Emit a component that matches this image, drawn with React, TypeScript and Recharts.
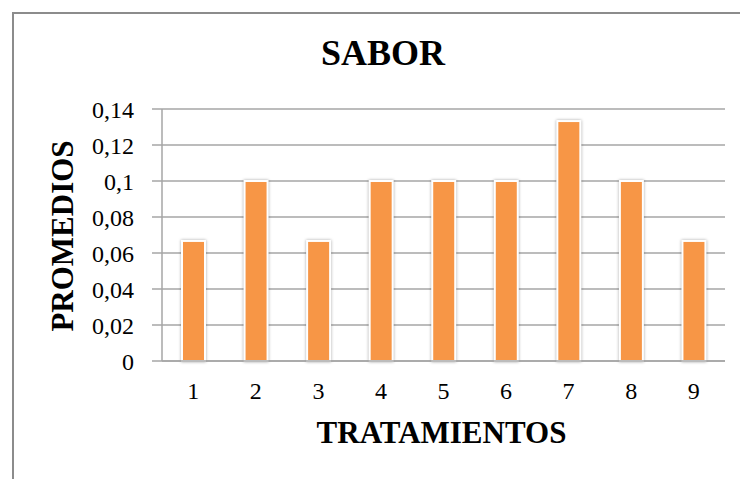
import React from 'react';
import { BarChart, Bar, XAxis, YAxis, CartesianGrid } from 'recharts';

const tratamientos = ['1', '2', '3', '4', '5', '6', '7', '8', '9'];
const promedios = [0.0667, 0.1, 0.0667, 0.1, 0.1, 0.1, 0.1333, 0.1, 0.0667];
const yTicks = [0, 0.02, 0.04, 0.06, 0.08, 0.1, 0.12, 0.14];

const data = tratamientos.map((t, i) => ({ tratamiento: t, promedio: promedios[i] }));

const FONT = '"Liberation Serif", "Times New Roman", serif';
const GRID = '#A6A6A6';

// comma decimal, as in the original spreadsheet
const fmt = (v: number) => String(v).replace('.', ',');

const BarShape = (props: any) => {
  const { x, y, width, height } = props;
  return (
    <rect
      x={x}
      y={y}
      width={width}
      height={height}
      fill="#F79646"
      stroke="#FFFFFF"
      strokeWidth={2}
      style={{ filter: 'drop-shadow(0px 0px 1.5px rgba(0,0,0,0.35))' }}
    />
  );
};

const YTitle = (props: any) => {
  const { viewBox } = props;
  const x = 73;
  const y = viewBox.y + viewBox.height / 2 + 1;
  return (
    <text
      x={x}
      y={y}
      transform={`rotate(-90 ${x} ${y})`}
      textAnchor="middle"
      fontFamily={FONT}
      fontWeight="bold"
      fontSize={31}
      fill="#000"
    >
      PROMEDIOS
    </text>
  );
};

const XTitle = (props: any) => {
  const { viewBox } = props;
  return (
    <text
      x={viewBox.x + viewBox.width / 2 - 2}
      y={443}
      textAnchor="middle"
      fontFamily={FONT}
      fontWeight="bold"
      fontSize={31}
      fill="#000"
    >
      TRATAMIENTOS
    </text>
  );
};

export default function App() {
  return (
    <div style={{ position: 'absolute', left: 0, top: 0, width: 740, height: 479, background: '#fff' }}>
      {/* chart frame: only top and left edges show in the crop */}
      <div
        style={{
          position: 'absolute',
          left: 12,
          top: 12,
          right: 0,
          bottom: 0,
          borderTop: '2px solid #8C8C8C',
          borderLeft: '2px solid #8C8C8C',
        }}
      />
      <div
        style={{
          position: 'absolute',
          left: 283,
          width: 200,
          top: 33,
          textAlign: 'center',
          fontFamily: FONT,
          fontWeight: 'bold',
          fontSize: 36,
          lineHeight: '40px',
        }}
      >
        SABOR
      </div>
      <div style={{ position: 'absolute', left: 0, top: 0 }}>
        <BarChart
          width={740}
          height={479}
          data={data}
          margin={{ top: 109, right: 15, bottom: 0, left: 0 }}
          barSize={23}
        >
          <CartesianGrid vertical={false} stroke={GRID} strokeWidth={1.5} />
          <XAxis
            dataKey="tratamiento"
            height={118}
            tickLine={false}
            tickSize={0}
            tickMargin={21}
            axisLine={{ stroke: GRID, strokeWidth: 1.5 }}
            tick={{ fontFamily: FONT, fontSize: 24, fill: '#000' }}
            label={<XTitle />}
          />
          <YAxis
            width={162}
            domain={[0, 0.14]}
            ticks={yTicks}
            tickFormatter={fmt}
            tickSize={10}
            tickMargin={18}
            interval={0}
            axisLine={{ stroke: GRID, strokeWidth: 1.5 }}
            tickLine={{ stroke: GRID, strokeWidth: 1.5 }}
            tick={{ fontFamily: FONT, fontSize: 24, fill: '#000' }}
            label={<YTitle />}
          />
          <Bar dataKey="promedio" shape={<BarShape />} isAnimationActive={false} />
        </BarChart>
      </div>
    </div>
  );
}
